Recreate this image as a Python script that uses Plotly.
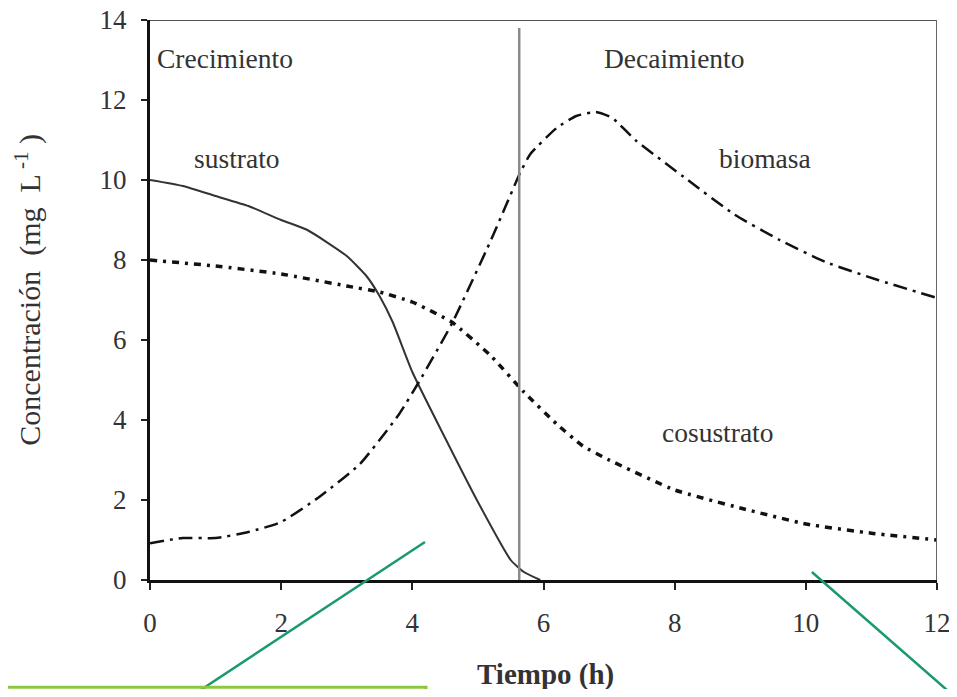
import plotly.graph_objects as go

# ---- data ----
sustrato_t = [0, 0.5, 1, 1.5, 2, 2.4, 3, 3.3, 3.5, 3.7, 4, 4.5, 5, 5.5, 5.7, 5.95]
sustrato_c = [10, 9.85, 9.6, 9.35, 9.0, 8.75, 8.1, 7.6, 7.1, 6.45, 5.2, 3.55, 1.95, 0.5, 0.2, 0]

cosustrato_t = [0, 1, 2, 3, 3.5, 4, 4.6, 5.2, 5.7, 6.2, 6.6, 7, 8, 9, 10, 11, 12]
cosustrato_c = [8, 7.85, 7.65, 7.35, 7.2, 6.95, 6.45, 5.6, 4.7, 3.9, 3.35, 3.0, 2.25, 1.8, 1.4, 1.17, 1.0]

biomasa_t = [0, 0.5, 1, 1.5, 2, 2.6, 3.2, 3.8, 4.1, 4.6, 5.2, 5.65, 5.8, 6.2, 6.5, 6.8, 7.05, 7.4, 8.2, 8.9, 9.6, 10.3, 11.1, 12]
biomasa_c = [0.92, 1.05, 1.05, 1.2, 1.45, 2.1, 2.9, 4.15, 4.95, 6.4, 8.5, 10.2, 10.65, 11.3, 11.6, 11.7, 11.55, 11.0, 10.0, 9.15, 8.5, 7.95, 7.5, 7.05]

fase_t = 5.63          # boundary between growth and decay phases
fase_top = 13.8

x_ticks = [0, 2, 4, 6, 8, 10, 12]
y_ticks = [0, 2, 4, 6, 8, 10, 12, 14]

labels_text = ["Crecimiento", "Decaimiento", "sustrato", "biomasa", "cosustrato"]
labels_t = [1.15, 8.0, 1.33, 9.38, 8.66]
labels_c = [13.05, 13.05, 10.55, 10.55, 3.7]

FONT = "Liberation Serif"

fig = go.Figure()
fig.add_trace(go.Scatter(x=sustrato_t, y=sustrato_c, mode="lines",
                         line=dict(color="#333333", width=2, shape="spline", smoothing=0.5),
                         name="sustrato", showlegend=False, hoverinfo="skip"))
fig.add_trace(go.Scatter(x=cosustrato_t, y=cosustrato_c, mode="lines",
                         line=dict(color="#111111", width=3.5, dash="7px,6px,3px,6px",
                                   shape="spline", smoothing=0.4),
                         name="cosustrato", showlegend=False, hoverinfo="skip"))
fig.add_trace(go.Scatter(x=biomasa_t, y=biomasa_c, mode="lines",
                         line=dict(color="#111111", width=2.5, dash="14px,6px,3px,6px",
                                   shape="spline", smoothing=0.5),
                         name="biomasa", showlegend=False, hoverinfo="skip"))

shapes = [
    dict(type="line", xref="x", yref="y", x0=fase_t, x1=fase_t, y0=0, y1=fase_top,
         line=dict(color="#8a8a8a", width=2.5)),
    # top and right frame
    dict(type="line", xref="x", yref="y", x0=0, x1=12, y0=14, y1=14,
         line=dict(color="#555555", width=2)),
    dict(type="line", xref="x", yref="y", x0=12, x1=12, y0=0, y1=14,
         line=dict(color="#666666", width=2)),
    # green overlay marks
    dict(type="line", xref="paper", yref="paper", x0=0.3494, y0=0.0679, x1=0.0508, y1=-0.209,
         line=dict(color="#1a9a6c", width=2.5)),
    dict(type="line", xref="paper", yref="paper", x0=0.841, y0=0.0143, x1=1.0229, y1=-0.209,
         line=dict(color="#1a9a6c", width=2.5)),
    dict(type="rect", xref="paper", yref="paper", x0=-0.185, y0=-0.25, x1=0.3507, y1=-0.1915,
         line=dict(color="#8dc63f", width=3), fillcolor="rgba(0,0,0,0)"),
]

annotations = []
for txt, tx, ty in zip(labels_text, labels_t, labels_c):
    annotations.append(dict(x=tx, y=ty, xref="x", yref="y", text=txt, showarrow=False,
                            xanchor="center", yanchor="middle",
                            font=dict(family=FONT, size=27.5, color="#333333")))
annotations.append(dict(x=0.502, y=-0.1679, xref="paper", yref="paper", text="<b>Tiempo (h)</b>",
                        showarrow=False, xanchor="center", yanchor="middle",
                        font=dict(family=FONT, size=29, color="#333333")))
annotations.append(dict(x=-0.154, y=0.518, xref="paper", yref="paper",
                        text="Concentración  (mg  L<sup> -1</sup> )", textangle=-90,
                        showarrow=False, xanchor="center", yanchor="middle",
                        font=dict(family=FONT, size=30, color="#333333")))

fig.update_layout(
    width=941, height=681,
    margin=dict(l=142, r=12, t=12, b=109, autoexpand=False),
    paper_bgcolor="white", plot_bgcolor="white",
    shapes=shapes, annotations=annotations,
    showlegend=False,
)
fig.update_xaxes(range=[0, 12], tickvals=x_ticks, showgrid=False, zeroline=False,
                 automargin=False, ticklabeloverflow="allow",
                 showline=True, linecolor="#111111", linewidth=3,
                 ticks="outside", ticklen=7, tickwidth=2, tickcolor="#222222",
                 ticklabelstandoff=10,
                 tickfont=dict(family=FONT, size=27, color="#333333"))
fig.update_yaxes(range=[0, 14], tickvals=y_ticks, showgrid=False, zeroline=False,
                 automargin=False, ticklabeloverflow="allow",
                 showline=True, linecolor="#111111", linewidth=3,
                 ticks="outside", ticklen=6, tickwidth=2, tickcolor="#222222",
                 ticklabelstandoff=9,
                 tickfont=dict(family=FONT, size=27, color="#333333"))

fig.write_html("out.html")
